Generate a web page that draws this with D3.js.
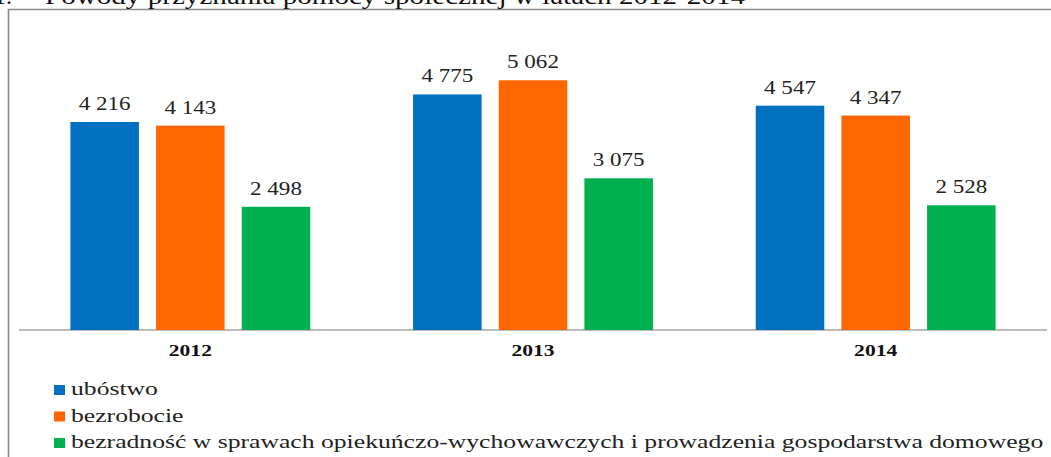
<!DOCTYPE html>
<html>
<head>
<meta charset="utf-8">
<script src="https://cdn.jsdelivr.net/npm/d3@7"></script>
<style>
  html, body { margin: 0; padding: 0; background: #fff; }
  svg { display: block; }
  svg text { font-family: "Liberation Serif", "Times New Roman", serif; }
</style>
</head>
<body>
<div id="graph-container"></div>
<script>

    /////////////////////////////////////////////////////////////////////////////
                          ///////    Data    ///////
    /////////////////////////////////////////////////////////////////////////////

    var years = ['2012', '2013', '2014'];
    var series_names = ['ubóstwo', 'bezrobocie', 'bezradność w sprawach opiekuńczo-wychowawczych i prowadzenia gospodarstwa domowego'];
    var ubostwo = [4216, 4775, 4547];
    var bezrobocie = [4143, 5062, 4347];
    var bezradnosc = [2498, 3075, 2528];
    var series_colors = ['#0070C0', '#FF6600', '#00B050'];
    var title_text = 'Powody przyznania pomocy społecznej w latach 2012-2014';

    /////////////////////////////////////////////////////////////////////////////
                          ///////    Set Up Chart    ///////
    /////////////////////////////////////////////////////////////////////////////

    var w = 1051, h = 457;
    var baseline = 330;
    var serif = '"Liberation Serif", "Times New Roman", serif';

    var series_values = [ubostwo, bezrobocie, bezradnosc];
    var data = years.map((year, i) => ({
        year: year,
        levels: series_names.map((name, j) => ({ name: name, value: series_values[j][i], color: series_colors[j] }))
    }));

    var svg = d3.select('#graph-container').append('svg').attr('width', w).attr('height', h);

    var x0 = d3.scaleBand().domain(years).range([19, 1047]).paddingInner(0.3).paddingOuter(0.15);
    var x1 = d3.scaleBand().domain(series_names).range([0, x0.bandwidth()]).paddingInner(0.2);
    var y = d3.scaleLinear().domain([0, 6000]).range([baseline, baseline - 296]);

    // the source picture is stretched sideways, so widen every text a bit
    function stretch(sel, k) {
        sel.each(function () {
            var len = this.getComputedTextLength();
            d3.select(this).attr('textLength', len * k).attr('lengthAdjust', 'spacingAndGlyphs');
        });
    }

    // frame
    svg.append('path')
       .attr('d', `M8.5,${h + 5}V9.5H${w + 5}`)
       .attr('fill', 'none').attr('stroke', '#8a8a8a').attr('stroke-width', 1.6);

    // caption above the frame, cut by the top edge as in the source
    svg.append('text').attr('x', -6).attr('y', 4).attr('font-family', serif).attr('font-size', 24).attr('fill', '#111').text('1.');
    svg.append('text').attr('x', 45).attr('y', 4).attr('font-family', serif).attr('font-size', 24).attr('fill', '#111')
       .attr('textLength', 700).attr('lengthAdjust', 'spacingAndGlyphs').text(title_text);

    // axis
    var x_axis = d3.axisBottom(x0).tickSize(0).tickPadding(15);
    var axis_g = svg.append('g').attr('transform', `translate(0,${baseline})`).call(x_axis)
                    .attr('font-family', serif);
    axis_g.select('.domain').attr('stroke', '#a6a6a6').attr('stroke-width', 1.3).attr('d', 'M19,0H1047');
    axis_g.selectAll('text')
          .attr('font-family', serif)
          .attr('font-size', 16).attr('font-weight', 'bold').attr('fill', '#111')
          .call(stretch, 1.35);

    var groups = svg.selectAll('.group').data(data).enter()
        .append('g').attr('class', 'group')
        .attr('transform', d => `translate(${x0(d.year)},0)`);

    groups.selectAll('.bar').data(d => d.levels).enter()
        .append('rect').attr('class', 'bar')
        .attr('x', d => x1(d.name))
        .attr('width', x1.bandwidth())
        .attr('y', d => y(d.value))
        .attr('height', d => baseline - y(d.value))
        .style('fill', d => d.color);

    var fmt = v => d3.format(',')(v).replace(/,/g, ' ');

    groups.selectAll('.label').data(d => d.levels).enter()
        .append('text').attr('class', 'label')
        .attr('x', d => x1(d.name) + x1.bandwidth() / 2)
        .attr('y', d => y(d.value) - 12)
        .attr('text-anchor', 'middle')
        .attr('font-family', serif)
        .attr('font-size', 18).attr('fill', '#222')
        .text(d => fmt(d.value))
        .call(stretch, 1.28);

    // legend
    var legend = svg.append('g').attr('class', 'legend');
    var items = legend.selectAll('.item').data(series_names).enter()
        .append('g').attr('class', 'item')
        .attr('transform', (d, i) => `translate(54,${395 + i * 26.5})`);
    items.append('rect').attr('x', 0).attr('y', -10).attr('width', 11).attr('height', 10)
         .style('fill', (d, i) => series_colors[i]);
    items.append('text').attr('x', 17).attr('y', 0)
         .attr('font-family', serif)
         .attr('font-size', 19).attr('fill', '#222').text(d => d)
         .call(stretch, 1.35);

</script>
</body>
</html>
